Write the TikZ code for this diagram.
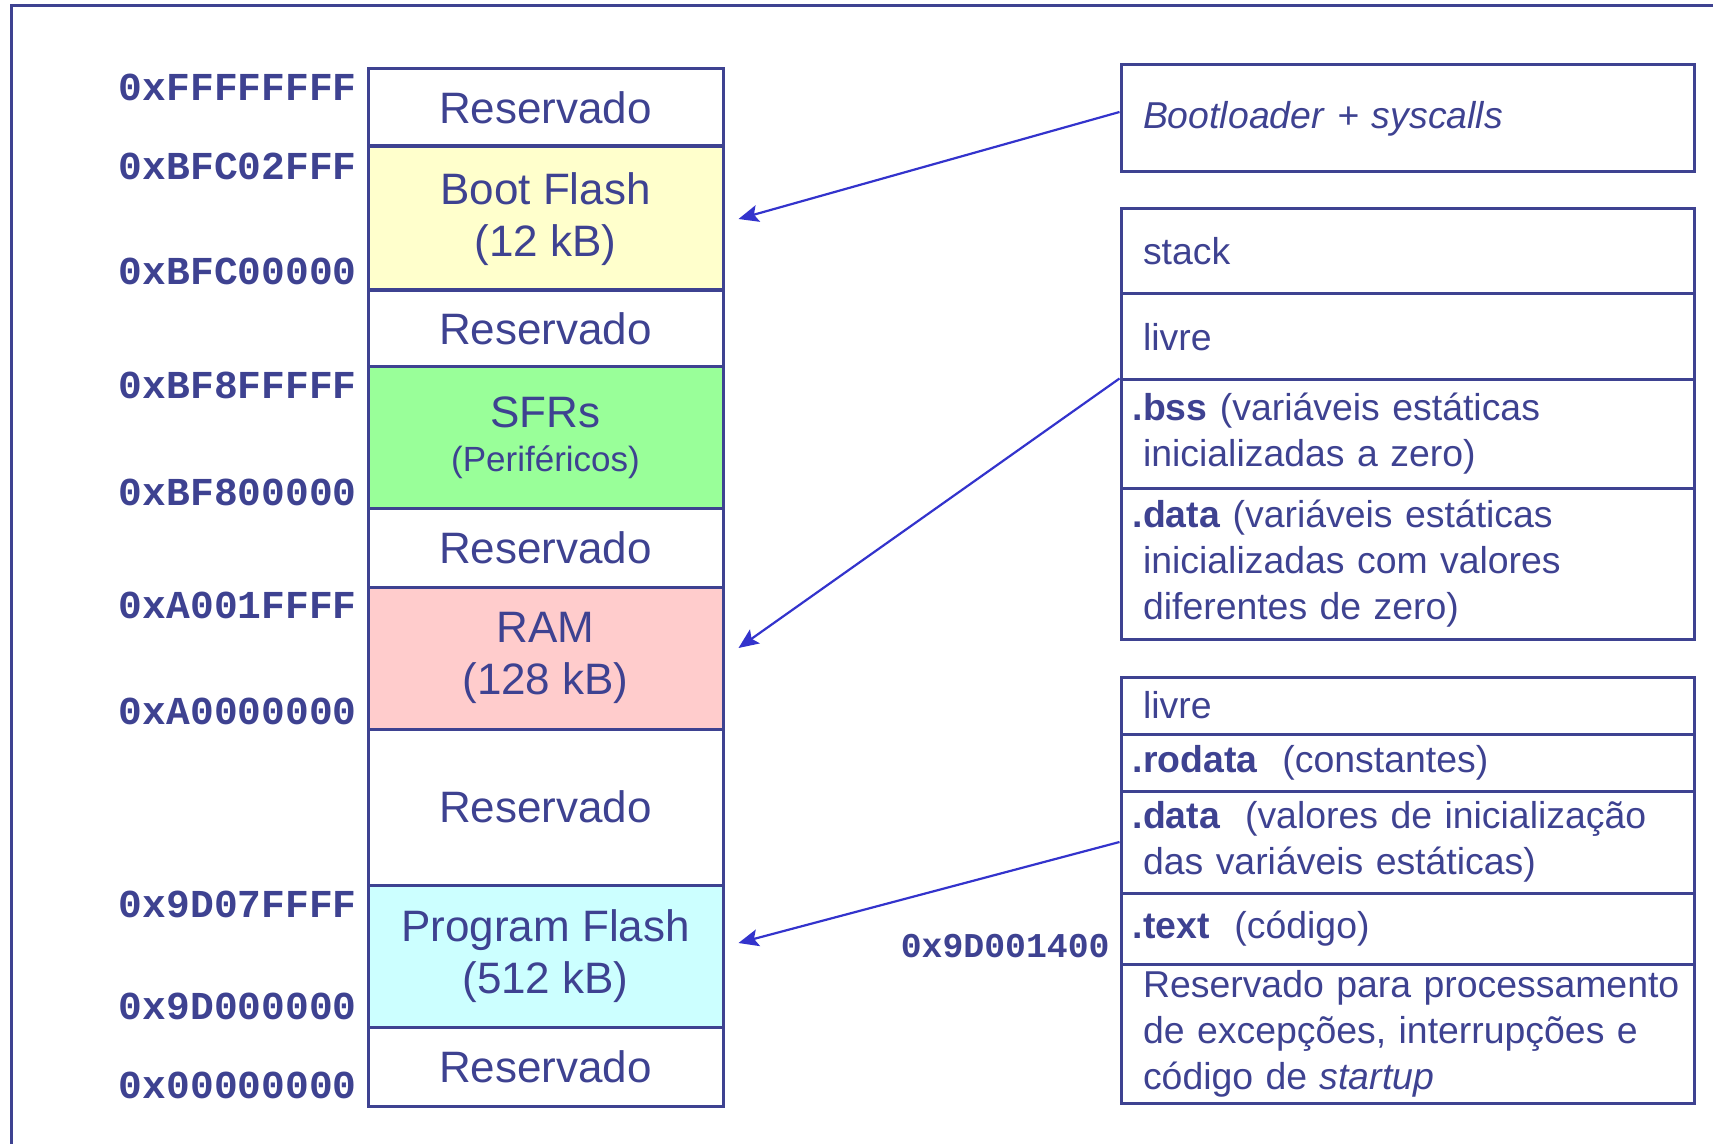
\documentclass[tikz,border=0pt]{standalone}
\usepackage{fontspec}
\setmainfont{Liberation Sans}
\setmonofont{Liberation Mono}
\usetikzlibrary{arrows.meta}
\definecolor{ink}{RGB}{62,66,145}
\definecolor{arrowblue}{RGB}{51,51,204}
\definecolor{bootfill}{RGB}{255,255,204}
\definecolor{sfrfill}{RGB}{153,255,153}
\definecolor{ramfill}{RGB}{255,204,204}
\definecolor{flashfill}{RGB}{204,255,255}
\begin{document}
\begin{tikzpicture}[x=0.5pt, y=-0.5pt,
    region/.style={draw=ink, line width=1.5pt, text=ink, minimum width=177.5pt,
      inner sep=0pt, align=center, font=\fontsize{22}{26}\selectfont},
    addr/.style={anchor=east, text=ink, inner sep=0pt,
      font=\ttfamily\bfseries\fontsize{19.8}{22}\selectfont},
    section/.style={draw=ink, line width=1.5pt, text=ink, minimum width=286.5pt,
      text width=264.5pt, inner xsep=11pt, inner ysep=2pt, align=left,
      font=\fontsize{18.7}{23}\selectfont},
    link/.style={color=arrowblue, line width=1.1pt,
      -{Stealth[length=10pt,width=8.5pt,inset=2pt]}}]
  \useasboundingbox (0,0) rectangle (1713,1144);
  \draw[ink, line width=1.5pt] (11,1170) -- (11,6) -- (1740,6);
  % memory map
  \node[region, minimum height=38.5pt] (resA) at (545.5,107.5) {Reservado};
  \node[region, fill=bootfill, minimum height=72pt] (boot) at (545.5,219) {Boot Flash\\(12 kB)};
  \node[region, minimum height=38.5pt] (resB) at (545.5,328.5) {Reservado};
  \node[region, fill=sfrfill, minimum height=70.5pt, font=\fontsize{22}{22}\selectfont] (sfr) at (545.5,437.5)
    {SFRs\\{\fontsize{17.5}{21}\selectfont(Periféricos)}};
  \node[region, minimum height=39.5pt] (resC) at (545.5,547.5) {Reservado};
  \node[region, fill=ramfill, minimum height=71pt] (ram) at (545.5,658) {RAM\\(128 kB)};
  \node[region, minimum height=78pt] (resD) at (545.5,807) {Reservado};
  \node[region, fill=flashfill, minimum height=71pt] (pflash) at (545.5,956) {Program Flash\\(512 kB)};
  \node[region, minimum height=39.5pt] (resE) at (545.5,1066.5) {Reservado};
  % addresses
  \node[addr] (aFFFFFFFF) at (357,87) {0xFFFFFFFF};
  \node[addr] (aBFC02FFF) at (357,166) {0xBFC02FFF};
  \node[addr] (aBFC00000) at (357,271) {0xBFC00000};
  \node[addr] (aBF8FFFFF) at (357,385) {0xBF8FFFFF};
  \node[addr] (aBF800000) at (357,492) {0xBF800000};
  \node[addr] (aA001FFFF) at (357,605) {0xA001FFFF};
  \node[addr] (aA0000000) at (357,711) {0xA0000000};
  \node[addr] (a9D07FFFF) at (357,904) {0x9D07FFFF};
  \node[addr] (a9D000000) at (357,1006) {0x9D000000};
  \node[addr] (a00000000) at (357,1085) {0x00000000};
  \node[addr, font=\ttfamily\bfseries\fontsize{17.4}{20}\selectfont] (a9D001400) at (1110,946) {0x9D001400};
  % boot flash contents
  \node[section, minimum height=53.5pt] (bootl) at (1407.5,118.5) {\textit{Bootloader} + \textit{syscalls}};
  % ram contents
  \node[section, minimum height=42.5pt] (stack) at (1407.5,251.5) {stack};
  \node[section, minimum height=43pt] (freeA) at (1407.5,337) {livre};
  \node[section, minimum height=54pt] (bss) at (1407.5,434)
    {\textbf{\llap{.}bss} (variáveis estáticas\\inicializadas a zero)};
  \node[section, minimum height=75.5pt] (rdata) at (1407.5,563.5)
    {\textbf{\llap{.}data} (variáveis estáticas\\inicializadas com valores\\diferentes de zero)};
  % program flash contents
  \node[section, minimum height=28.5pt] (freeB) at (1407.5,705.5) {livre};
  \node[section, minimum height=28.5pt] (rodata) at (1407.5,762.5) {\textbf{\llap{.}rodata}\ \ (constantes)};
  \node[section, minimum height=51pt] (fdata) at (1407.5,842)
    {\textbf{\llap{.}data}\ \ (valores de inicialização\\das variáveis estáticas)};
  \node[section, minimum height=35.5pt] (text) at (1407.5,928.5) {\textbf{\llap{.}text}\ \ (código)};
  \node[section, minimum height=69.5pt] (resF) at (1407.5,1033.5)
    {\mbox{Reservado para processamento}\\de excepções, interrupções e\\código de \textit{startup}};
  \begin{scope}[link]
    \draw ([yshift=3.25pt]bootl.west) to ([xshift=7pt]boot.east);
    \draw (bss.north west) to ([shift={(7pt,5pt)}]ram.east);
    \draw (fdata.west) to ([shift={(7pt,6.5pt)}]pflash.east);
  \end{scope}
\end{tikzpicture}
\end{document}
